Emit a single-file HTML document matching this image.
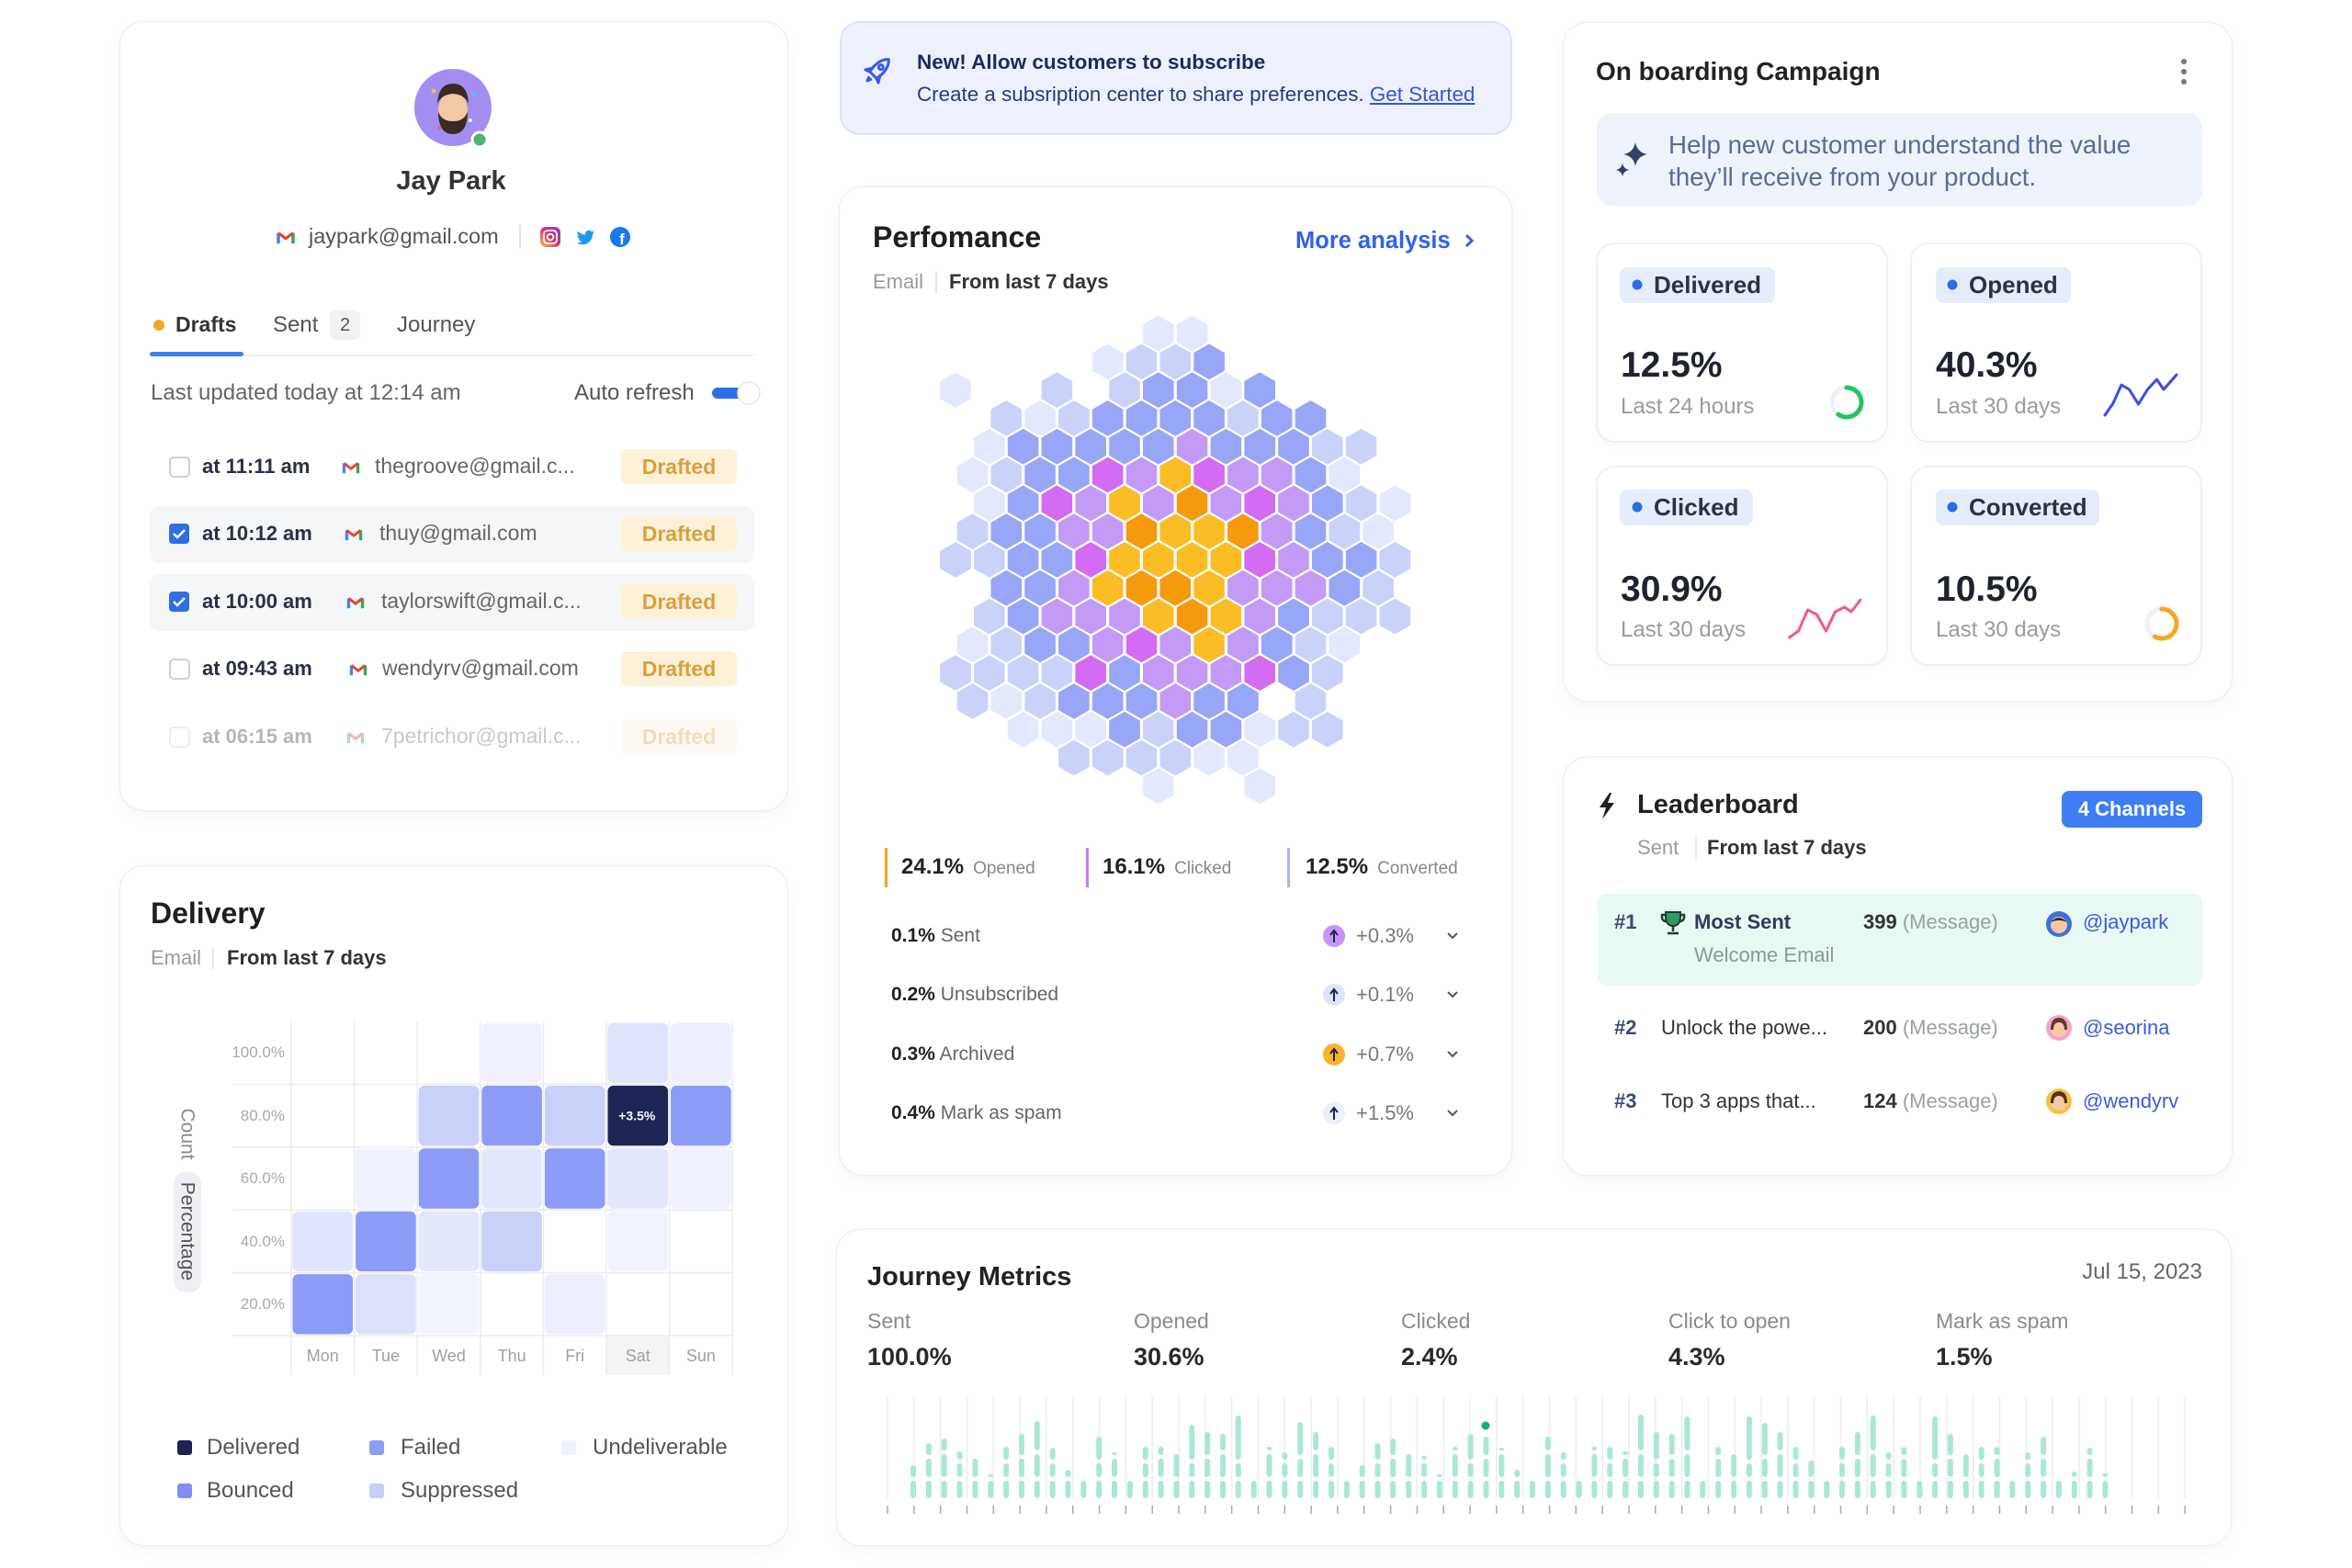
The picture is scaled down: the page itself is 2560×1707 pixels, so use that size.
<!DOCTYPE html>
<html><head><meta charset="utf-8"><title>Dashboard</title>
<style>
*{margin:0;padding:0;box-sizing:border-box}
html,body{width:2560px;height:1707px;background:#fff;overflow:hidden}
body{position:relative;font-family:"Liberation Sans",Arial,sans-serif;color:#333}
.c{position:absolute;background:#fff;border-radius:26px;box-shadow:0 0 0 1.5px #eff0f3,0 6px 18px rgba(20,30,60,.035)}
.t{position:absolute;white-space:nowrap;line-height:1}
.b{font-weight:700}
.bx{position:absolute}
svg#ov{position:absolute;left:0;top:0;z-index:5}
.mc{position:absolute;background:#fff;border-radius:18px;box-shadow:0 0 0 2px #eef0f3,0 4px 10px rgba(20,30,60,.03)}
.pill{position:absolute;height:39px;border-radius:8px;background:#e5ecfb}
.pl{position:absolute;font-size:26px;font-weight:700;color:#2b3343;line-height:1;white-space:nowrap}
.val{position:absolute;font-size:39px;font-weight:700;color:#1f2330;line-height:1}
.lst{position:absolute;font-size:24px;color:#9b9b9b;line-height:1;white-space:nowrap}
.dr{position:absolute;left:676px;width:126px;height:38px;line-height:38px;text-align:center;border-radius:6px;background:#fdf1d8;color:#d9a040;font-size:23px;font-weight:700}
</style></head><body>

<!-- ============ CARDS ============ -->
<div class="c" style="left:131px;top:24px;width:726px;height:858px"></div>
<div class="c" style="left:131px;top:943px;width:726px;height:739px"></div>
<div class="bx" style="left:914px;top:23px;width:732px;height:124px;background:#eef1fd;border:2px solid #dde2fb;border-radius:22px"></div>
<div class="c" style="left:914px;top:204px;width:731px;height:1075px"></div>
<div class="c" style="left:1702px;top:25px;width:727px;height:738px"></div>
<div class="c" style="left:1702px;top:825px;width:727px;height:454px"></div>
<div class="c" style="left:911px;top:1339px;width:1517px;height:343px"></div>

<!-- ============ PROFILE CARD ============ -->
<div class="t b" style="left:391px;top:183px;width:200px;text-align:center;font-size:29px;color:#333">Jay Park</div>
<div class="t" style="left:336px;top:246px;font-size:23.5px;color:#555">jaypark@gmail.com</div>
<div class="bx" style="left:565px;top:245px;width:2px;height:26px;background:#e2e2e2"></div>

<div class="t b" style="left:191px;top:342px;font-size:23px;color:#333">Drafts</div>
<div class="t" style="left:297px;top:342px;font-size:24px;color:#555">Sent</div>
<div class="bx" style="left:359px;top:338px;width:33px;height:32px;border-radius:6px;background:#f1f2f4"></div>
<div class="t" style="left:359px;top:344px;width:33px;text-align:center;font-size:20px;color:#555">2</div>
<div class="t" style="left:432px;top:342px;font-size:24px;color:#555">Journey</div>
<div class="bx" style="left:163px;top:386px;width:659px;height:2px;background:#eceef1"></div>
<div class="bx" style="left:163px;top:383px;width:102px;height:5px;border-radius:3px;background:#3b82f6"></div>

<div class="t" style="left:164px;top:416px;font-size:24px;color:#666">Last updated today at 12:14 am</div>
<div class="t" style="left:625px;top:416px;font-size:24px;color:#555">Auto refresh</div>

<div class="bx" style="left:163px;top:551px;width:658px;height:62px;border-radius:10px;background:#f5f6f8"></div>
<div class="bx" style="left:163px;top:625px;width:658px;height:62px;border-radius:10px;background:#f5f6f8"></div>

<div class="t b" style="left:220px;top:497px;font-size:22px;color:#2a2f45">at 11:11 am</div>
<div class="t" style="left:408px;top:496px;font-size:23px;color:#666">thegroove@gmail.c...</div>
<div class="dr" style="top:489px">Drafted</div>

<div class="t b" style="left:220px;top:570px;font-size:22px;color:#2a2f45">at 10:12 am</div>
<div class="t" style="left:413px;top:569px;font-size:23px;color:#666">thuy@gmail.com</div>
<div class="dr" style="top:562px">Drafted</div>

<div class="t b" style="left:220px;top:644px;font-size:22px;color:#2a2f45">at 10:00 am</div>
<div class="t" style="left:415px;top:643px;font-size:23px;color:#666">taylorswift@gmail.c...</div>
<div class="dr" style="top:636px">Drafted</div>

<div class="t b" style="left:220px;top:717px;font-size:22px;color:#2a2f45">at 09:43 am</div>
<div class="t" style="left:416px;top:716px;font-size:23px;color:#666">wendyrv@gmail.com</div>
<div class="dr" style="top:709px">Drafted</div>

<div style="opacity:.35">
<div class="t b" style="left:220px;top:791px;font-size:22px;color:#2a2f45">at 06:15 am</div>
<div class="t" style="left:415px;top:790px;font-size:23px;color:#666">7petrichor@gmail.c...</div>
<div class="dr" style="top:783px">Drafted</div>
</div>

<!-- ============ DELIVERY CARD ============ -->
<div class="t b" style="left:164px;top:978px;font-size:32px;color:#1f1f1f">Delivery</div>
<div class="t" style="left:164px;top:1032px;font-size:22px;color:#9a9a9a">Email</div>
<div class="bx" style="left:231px;top:1031px;width:2px;height:24px;background:#e6e6e6"></div>
<div class="t b" style="left:247px;top:1032px;font-size:22px;color:#333">From last 7 days</div>

<div class="t" style="left:230px;top:1137px;width:80px;text-align:right;font-size:17px;color:#aaa">100.0%</div>
<div class="t" style="left:230px;top:1206px;width:80px;text-align:right;font-size:17px;color:#aaa">80.0%</div>
<div class="t" style="left:230px;top:1274px;width:80px;text-align:right;font-size:17px;color:#aaa">60.0%</div>
<div class="t" style="left:230px;top:1343px;width:80px;text-align:right;font-size:17px;color:#aaa">40.0%</div>
<div class="t" style="left:230px;top:1411px;width:80px;text-align:right;font-size:17px;color:#aaa">20.0%</div>

<div class="bx" style="left:659px;top:1454px;width:69px;height:43px;background:#f3f4f6"></div>
<div class="t" style="left:317px;top:1467px;width:68.6px;text-align:center;font-size:18px;color:#a0a0a0">Mon</div>
<div class="t" style="left:385.6px;top:1467px;width:68.6px;text-align:center;font-size:18px;color:#a0a0a0">Tue</div>
<div class="t" style="left:454.2px;top:1467px;width:68.6px;text-align:center;font-size:18px;color:#a0a0a0">Wed</div>
<div class="t" style="left:522.8px;top:1467px;width:68.6px;text-align:center;font-size:18px;color:#a0a0a0">Thu</div>
<div class="t" style="left:591.4px;top:1467px;width:68.6px;text-align:center;font-size:18px;color:#a0a0a0">Fri</div>
<div class="t" style="left:660px;top:1467px;width:68.6px;text-align:center;font-size:18px;color:#a0a0a0">Sat</div>
<div class="t" style="left:728.6px;top:1467px;width:68.6px;text-align:center;font-size:18px;color:#a0a0a0">Sun</div>

<div class="t" style="left:169px;top:1224px;width:70px;text-align:center;font-size:21px;color:#8a8a8a;transform:rotate(90deg)">Count</div>
<div class="bx" style="left:189px;top:1276px;width:30px;height:131px;border-radius:12px;background:#eeeff2"></div>
<div class="t" style="left:144px;top:1330px;width:120px;text-align:center;font-size:21px;color:#555;transform:rotate(90deg)">Percentage</div>

<div class="t" style="left:225px;top:1564px;font-size:24px;color:#555">Delivered</div>
<div class="t" style="left:225px;top:1611px;font-size:24px;color:#555">Bounced</div>
<div class="t" style="left:436px;top:1564px;font-size:24px;color:#555">Failed</div>
<div class="t" style="left:436px;top:1611px;font-size:24px;color:#555">Suppressed</div>
<div class="t" style="left:645px;top:1564px;font-size:24px;color:#555">Undeliverable</div>

<!-- ============ BANNER ============ -->
<div class="t b" style="left:998px;top:57px;font-size:22.5px;color:#1e2a5e">New! Allow customers to subscribe</div>
<div class="t" style="left:998px;top:92px;font-size:22.4px;color:#2a3a78">Create a subsription center to share preferences. <span style="color:#3456d9;text-decoration:underline">Get Started</span></div>

<!-- ============ PERFORMANCE ============ -->
<div class="t b" style="left:950px;top:242px;font-size:32px;color:#1f1f1f">Perfomance</div>
<div class="t b" style="left:1410px;top:250px;font-size:25.5px;color:#2f62ea">More analysis</div>
<div class="t" style="left:950px;top:296px;font-size:22px;color:#9a9a9a">Email</div>
<div class="bx" style="left:1018px;top:295px;width:2px;height:24px;background:#e6e6e6"></div>
<div class="t b" style="left:1033px;top:296px;font-size:22px;color:#333">From last 7 days</div>

<div class="t" style="left:981px;top:932px;font-size:24px;color:#222"><b>24.1%</b><span style="font-size:19px;color:#888;margin-left:10px">Opened</span></div>
<div class="t" style="left:1200px;top:932px;font-size:24px;color:#222"><b>16.1%</b><span style="font-size:19px;color:#888;margin-left:10px">Clicked</span></div>
<div class="t" style="left:1421px;top:932px;font-size:24px;color:#222"><b>12.5%</b><span style="font-size:19px;color:#888;margin-left:10px">Converted</span></div>

<div class="t" style="left:970px;top:1008px;font-size:21px;color:#666"><b style="color:#222">0.1%</b> Sent</div>
<div class="t" style="left:970px;top:1072px;font-size:21px;color:#666"><b style="color:#222">0.2%</b> Unsubscribed</div>
<div class="t" style="left:970px;top:1137px;font-size:21px;color:#666"><b style="color:#222">0.3%</b> Archived</div>
<div class="t" style="left:970px;top:1201px;font-size:21px;color:#666"><b style="color:#222">0.4%</b> Mark as spam</div>
<div class="t" style="left:1476px;top:1008px;font-size:22px;color:#7a7a7a">+0.3%</div>
<div class="t" style="left:1476px;top:1072px;font-size:22px;color:#7a7a7a">+0.1%</div>
<div class="t" style="left:1476px;top:1137px;font-size:22px;color:#7a7a7a">+0.7%</div>
<div class="t" style="left:1476px;top:1201px;font-size:22px;color:#7a7a7a">+1.5%</div>

<!-- ============ ONBOARDING ============ -->
<div class="t b" style="left:1737px;top:64px;font-size:28px;color:#222">On boarding Campaign</div>
<div class="bx" style="left:1738px;top:123px;width:659px;height:101px;border-radius:16px;background:#eef2fb"></div>
<div class="t" style="left:1816px;top:144px;font-size:27.7px;color:#5a6c94">Help new customer understand the value</div>
<div class="t" style="left:1816px;top:179px;font-size:27.7px;color:#5a6c94">they’ll receive from your product.</div>

<div class="mc" style="left:1739px;top:266px;width:314px;height:214px"></div>
<div class="mc" style="left:2081px;top:266px;width:314px;height:214px"></div>
<div class="mc" style="left:1739px;top:509px;width:314px;height:214px"></div>
<div class="mc" style="left:2081px;top:509px;width:314px;height:214px"></div>

<div class="pill" style="left:1763px;top:291px;width:169px"></div>
<div class="pl" style="left:1800px;top:297px">Delivered</div>
<div class="val" style="left:1764px;top:378px">12.5%</div>
<div class="lst" style="left:1764px;top:431px">Last 24 hours</div>

<div class="pill" style="left:2107px;top:291px;width:147px"></div>
<div class="pl" style="left:2143px;top:297px">Opened</div>
<div class="val" style="left:2107px;top:378px">40.3%</div>
<div class="lst" style="left:2107px;top:431px">Last 30 days</div>

<div class="pill" style="left:1763px;top:533px;width:145px"></div>
<div class="pl" style="left:1800px;top:539px">Clicked</div>
<div class="val" style="left:1764px;top:622px">30.9%</div>
<div class="lst" style="left:1764px;top:674px">Last 30 days</div>

<div class="pill" style="left:2107px;top:533px;width:178px"></div>
<div class="pl" style="left:2143px;top:539px">Converted</div>
<div class="val" style="left:2107px;top:622px">10.5%</div>
<div class="lst" style="left:2107px;top:674px">Last 30 days</div>

<!-- ============ LEADERBOARD ============ -->
<div class="t b" style="left:1782px;top:862px;font-size:29px;color:#222">Leaderboard</div>
<div class="t b" style="left:2244px;top:861px;width:153px;height:40px;line-height:40px;text-align:center;border-radius:8px;background:#3d7ef2;color:#fff;font-size:22px">4 Channels</div>
<div class="t" style="left:1782px;top:912px;font-size:22px;color:#9a9a9a">Sent</div>
<div class="bx" style="left:1845px;top:911px;width:2px;height:24px;background:#e6e6e6"></div>
<div class="t b" style="left:1858px;top:912px;font-size:22px;color:#333">From last 7 days</div>

<div class="bx" style="left:1739px;top:973px;width:658px;height:100px;border-radius:10px;background:#e8f8f2"></div>
<div class="t b" style="left:1757px;top:993px;font-size:22px;color:#3c4b6e">#1</div>
<div class="t b" style="left:1844px;top:993px;font-size:22px;color:#2d3b5e">Most Sent</div>
<div class="t" style="left:1844px;top:1029px;font-size:22px;color:#8a9a95">Welcome Email</div>
<div class="t" style="left:2028px;top:993px;font-size:22px;color:#9aa0a0"><b style="color:#333">399</b> (Message)</div>
<div class="t" style="left:2267px;top:993px;font-size:22px;color:#3b5bdb">@jaypark</div>

<div class="t b" style="left:1757px;top:1108px;font-size:22px;color:#3c4b6e">#2</div>
<div class="t" style="left:1808px;top:1108px;font-size:22px;color:#333">Unlock the powe...</div>
<div class="t" style="left:2028px;top:1108px;font-size:22px;color:#9aa0a0"><b style="color:#333">200</b> (Message)</div>
<div class="t" style="left:2267px;top:1108px;font-size:22px;color:#3b5bdb">@seorina</div>

<div class="t b" style="left:1757px;top:1188px;font-size:22px;color:#3c4b6e">#3</div>
<div class="t" style="left:1808px;top:1188px;font-size:22px;color:#333">Top 3 apps that...</div>
<div class="t" style="left:2028px;top:1188px;font-size:22px;color:#9aa0a0"><b style="color:#333">124</b> (Message)</div>
<div class="t" style="left:2267px;top:1188px;font-size:22px;color:#3b5bdb">@wendyrv</div>

<!-- ============ JOURNEY ============ -->
<div class="t b" style="left:944px;top:1376px;font-size:29px;color:#222">Journey Metrics</div>
<div class="t" style="left:2197px;top:1373px;width:200px;text-align:right;font-size:24px;color:#666">Jul 15, 2023</div>
<div class="t" style="left:944px;top:1427px;font-size:23px;color:#8a8a8a">Sent</div>
<div class="t" style="left:1234px;top:1427px;font-size:23px;color:#8a8a8a">Opened</div>
<div class="t" style="left:1525px;top:1427px;font-size:23px;color:#8a8a8a">Clicked</div>
<div class="t" style="left:1816px;top:1427px;font-size:23px;color:#8a8a8a">Click to open</div>
<div class="t" style="left:2107px;top:1427px;font-size:23px;color:#8a8a8a">Mark as spam</div>
<div class="t b" style="left:944px;top:1464px;font-size:27px;color:#2a2a2a">100.0%</div>
<div class="t b" style="left:1234px;top:1464px;font-size:27px;color:#2a2a2a">30.6%</div>
<div class="t b" style="left:1525px;top:1464px;font-size:27px;color:#2a2a2a">2.4%</div>
<div class="t b" style="left:1816px;top:1464px;font-size:27px;color:#2a2a2a">4.3%</div>
<div class="t b" style="left:2107px;top:1464px;font-size:27px;color:#2a2a2a">1.5%</div>

<!-- ============ SVG OVERLAY ============ -->
<svg id="ov" width="2560" height="1707" viewBox="0 0 2560 1707" xmlns="http://www.w3.org/2000/svg">
<defs>
<symbol id="gm" viewBox="0 0 24 18"><path d="M3 17V4" stroke="#4285f4" stroke-width="4" fill="none"/><path d="M21 17V4" stroke="#34a853" stroke-width="4" fill="none"/><path d="M3 4l9 7 9-7" stroke="#ea4335" stroke-width="3.5" fill="none" stroke-linejoin="round"/></symbol>
<linearGradient id="ig" x1="0" y1="1" x2="1" y2="0"><stop offset="0" stop-color="#fdc046"/><stop offset=".5" stop-color="#e1306c"/><stop offset="1" stop-color="#7b3fe4"/></linearGradient>
</defs>

<!-- avatar -->
<circle cx="493" cy="117" r="42" fill="#a48df0"/>
<circle cx="472" cy="99" r="2.5" fill="#f6c244"/><circle cx="516" cy="103" r="2.5" fill="#4fc3f7"/><circle cx="478" cy="139" r="2" fill="#ef5b8f"/><circle cx="512" cy="131" r="2" fill="#fff"/>
<ellipse cx="493" cy="120" rx="16" ry="20" fill="#f2c9a3"/>
<path d="M476 113 q1-22 17-22 q16 0 17 22 q-4-10-17-11 q-13 1-17 11z" fill="#3a2a22"/>
<path d="M477 121 q0 25 16 25 q16 0 16-25 q-3 11-16 11 q-13 0-16-11z" fill="#3a2a22"/>
<circle cx="522" cy="152" r="8" fill="#4fb374" stroke="#fff" stroke-width="3"/>

<!-- contact icons -->
<use href="#gm" x="300" y="250" width="22" height="16"/>
<rect x="588" y="247" width="22" height="22" rx="6" fill="url(#ig)"/>
<rect x="592" y="251" width="14" height="14" rx="4" fill="none" stroke="#fff" stroke-width="1.8"/>
<circle cx="599" cy="258" r="3.3" fill="none" stroke="#fff" stroke-width="1.8"/>
<path transform="translate(626,247) scale(0.95)" fill="#1d9bf0" d="M22 5.9c-.8.3-1.6.6-2.4.7.9-.5 1.5-1.4 1.8-2.3-.8.5-1.7.8-2.6 1-.8-.8-1.9-1.3-3-1.3-2.3 0-4.1 1.8-4.1 4.1 0 .3 0 .6.1.9C8.3 8.8 5.3 7.2 3.2 4.700c-.4.6-.6 1.3-.6 2.1 0 1.4.7 2.7 1.8 3.4-.7 0-1.3-.2-1.9-.5v.1c0 2 1.4 3.6 3.3 4-.3.1-.7.1-1.1.1-.3 0-.5 0-.8-.1.5 1.6 2 2.8 3.8 2.8-1.4 1.1-3.2 1.8-5.1 1.8H2c1.8 1.2 4 1.8 6.3 1.8 7.5 0 11.7-6.3 11.7-11.7v-.5c.8-.6 1.5-1.3 2-2.1z"/>
<circle cx="675" cy="258" r="11" fill="#1877f2"/>
<text x="677" y="266" font-size="17" font-weight="700" fill="#fff" text-anchor="middle" font-family="Liberation Sans, sans-serif">f</text>

<!-- tabs / toggle -->
<circle cx="173" cy="354" r="6" fill="#f6a623"/>
<rect x="775" y="422" width="40" height="12" rx="6" fill="#2f6fe4"/>
<circle cx="815" cy="428" r="12" fill="#fff" stroke="#e3e5ea" stroke-width="1.5"/>

<!-- checkboxes -->
<rect x="185" y="498" width="21" height="21" rx="4" fill="#fff" stroke="#cdd0d6" stroke-width="2"/>
<rect x="184" y="570" width="22" height="22" rx="4" fill="#2f6fe4"/><path d="M189 581l4 4 8-8" stroke="#fff" stroke-width="2.5" fill="none"/>
<rect x="184" y="644" width="22" height="22" rx="4" fill="#2f6fe4"/><path d="M189 655l4 4 8-8" stroke="#fff" stroke-width="2.5" fill="none"/>
<rect x="185" y="718" width="21" height="21" rx="4" fill="#fff" stroke="#cdd0d6" stroke-width="2"/>
<rect x="185" y="792" width="21" height="21" rx="4" fill="#fff" stroke="#cdd0d6" stroke-width="2" opacity=".4"/>
<use href="#gm" x="372" y="501" width="20" height="15"/>
<use href="#gm" x="375" y="574" width="20" height="15"/>
<use href="#gm" x="377" y="648" width="20" height="15"/>
<use href="#gm" x="380" y="721" width="20" height="15"/>
<use href="#gm" x="377" y="795" width="20" height="15" opacity=".4"/>

<!-- rocket -->
<g transform="translate(956,76) rotate(45)" fill="none" stroke="#3b57ee" stroke-width="3" stroke-linejoin="round">
<path d="M0 -16 C7 -10 7 2 5 8 L-5 8 C-7 2 -7 -10 0 -16Z"/>
<circle cx="0" cy="-4" r="2.5"/>
<path d="M-5 2 L-10 10 L-5 8 M5 2 L10 10 L5 8"/>
<path d="M-2 12 L0 17 L2 12"/>
</g>

<!-- more analysis chevron -->
<path d="M1596 256l6 6-6 6" stroke="#2f62ea" stroke-width="3" fill="none"/>

<!-- perf stat bars -->
<rect x="963" y="923" width="3" height="43" fill="#f5a623"/>
<rect x="1182" y="923" width="3" height="43" fill="#c77cf0"/>
<rect x="1401" y="923" width="3" height="43" fill="#a9b3f5"/>

<!-- perf rows icons -->
<circle cx="1452" cy="1019" r="12" fill="#c595f5"/><path d="M1452 1026v-12M1448 1018l4-5 4 5" stroke="#1e2352" stroke-width="2" fill="none"/>
<circle cx="1452" cy="1083" r="12" fill="#dfe4fb"/><path d="M1452 1090v-12M1448 1082l4-5 4 5" stroke="#1e2352" stroke-width="2" fill="none"/>
<circle cx="1452" cy="1148" r="12" fill="#f7b52b"/><path d="M1452 1155v-12M1448 1147l4-5 4 5" stroke="#1e2352" stroke-width="2" fill="none"/>
<circle cx="1452" cy="1212" r="12" fill="#eceffc"/><path d="M1452 1219v-12M1448 1211l4-5 4 5" stroke="#1e2352" stroke-width="2" fill="none"/>
<path d="M1576 1016l5 5 5-5" stroke="#555" stroke-width="2" fill="none"/>
<path d="M1576 1080l5 5 5-5" stroke="#555" stroke-width="2" fill="none"/>
<path d="M1576 1145l5 5 5-5" stroke="#555" stroke-width="2" fill="none"/>
<path d="M1576 1209l5 5 5-5" stroke="#555" stroke-width="2" fill="none"/>

<!-- onboarding -->
<circle cx="2377" cy="67" r="3" fill="#777"/><circle cx="2377" cy="78" r="3" fill="#777"/><circle cx="2377" cy="89" r="3" fill="#777"/>
<path transform="translate(1780,168)" d="M0 -13 Q2 -2 13 0 Q2 2 0 13 Q-2 2 -13 0 Q-2 -2 0 -13Z" fill="#33416a"/>
<path transform="translate(1766,185) scale(0.55)" d="M0 -13 Q2 -2 13 0 Q2 2 0 13 Q-2 2 -13 0 Q-2 -2 0 -13Z" fill="#33416a"/>
<circle cx="1782" cy="310" r="5.5" fill="#2c6ce6"/>
<circle cx="2125" cy="310" r="5.5" fill="#2c6ce6"/>
<circle cx="1782" cy="552" r="5.5" fill="#2c6ce6"/>
<circle cx="2125" cy="552" r="5.5" fill="#2c6ce6"/>
<circle cx="2010" cy="438" r="16" fill="none" stroke="#eef0f3" stroke-width="5"/>
<circle cx="2010" cy="438" r="16" fill="none" stroke="#22c55e" stroke-width="5" stroke-dasharray="60 101" stroke-linecap="round" transform="rotate(-90 2010 438)"/>
<circle cx="2353" cy="679" r="16" fill="none" stroke="#eef0f3" stroke-width="5"/>
<circle cx="2353" cy="679" r="16" fill="none" stroke="#f5a623" stroke-width="5" stroke-dasharray="58 101" stroke-linecap="round" transform="rotate(-90 2353 679)"/>
<polyline points="2291,452 2300,439 2309,419 2317.5,424 2327.5,440 2337.5,424 2347.5,413 2355,424 2369,408" fill="none" stroke="#3b4de0" stroke-width="3" stroke-linejoin="round" stroke-linecap="round"/>
<polyline points="1947.5,694 1957.5,687 1967.5,664 1977.5,669 1987.5,687 1997.5,666 2007.5,661 2015,666 2025,653" fill="none" stroke="#f2588f" stroke-width="3" stroke-linejoin="round" stroke-linecap="round"/>

<!-- leaderboard icons -->
<path d="M1752 863 L1741 879 H1748 L1744 892 L1757 874 H1750 L1754 863Z" fill="#1e1e1e"/>
<path d="M1813 993h16v6c0 6-4 9-8 9s-8-3-8-9z" fill="#2b9a63" stroke="#1f3d2e" stroke-width="2"/>
<path d="M1821 1008v6M1815 1016h12M1813 996h-4v3c0 2 2 4 4 4M1829 996h4v3c0 2-2 4-4 4" stroke="#1f3d2e" stroke-width="2.5" fill="none"/>
<circle cx="2241" cy="1006" r="14" fill="#3b6fe0"/><circle cx="2241" cy="1007" r="9" fill="#f2c9a3"/><path d="M2232 1004q9-10 18 0q-9-4-18 0z" fill="#3a2a22"/>
<circle cx="2241" cy="1119" r="14" fill="#f5a3c7"/><circle cx="2241" cy="1120" r="9" fill="#f2c9a3"/><path d="M2232 1121q0-13 9-13q9 0 9 13l-3 0q0-8-6-8q-6 0-6 8z" fill="#5a3a2a"/>
<circle cx="2241" cy="1199" r="14" fill="#f6c244"/><circle cx="2241" cy="1200" r="9" fill="#f2c9a3"/><path d="M2232 1201q0-13 9-13q9 0 9 13l-3 0q0-8-6-8q-6 0-6 8z" fill="#4a3328"/>

<!-- delivery grid -->
<g id="dg" stroke="#ececf0" stroke-width="1.5"></g>
<g id="dc"></g>
<text x="693.3" y="1219.5" font-size="14" font-weight="700" fill="#fff" text-anchor="middle" font-family="Liberation Sans, sans-serif">+3.5%</text>
<rect x="193" y="1568" width="16" height="16" rx="3" fill="#1e2352"/>
<rect x="193" y="1615" width="16" height="16" rx="3" fill="#7f8ff4"/>
<rect x="402" y="1568" width="16" height="16" rx="3" fill="#8e9ef7"/>
<rect x="402" y="1615" width="16" height="16" rx="3" fill="#c6cdfa"/>
<rect x="611" y="1568" width="16" height="16" rx="3" fill="#eef0fd"/>

<!-- hexbin + journey bars (generated) -->
<g id="hx"></g>
<g id="jg"></g>
<g id="jb" fill="#a9e9d3"></g>
<circle cx="1617" cy="1552" r="4.5" fill="#10b07f"/>
</svg>

<script>
(function(){
var NS="http://www.w3.org/2000/svg";
function el(p,n,a){var e=document.createElementNS(NS,n);for(var k in a)e.setAttribute(k,a[k]);p.appendChild(e);return e;}
/* hexbin */
var hx=document.getElementById('hx');
var HR=["......00......","....0112.....","0..1.12202....",".1012222122..",".022222322211.","012243543320.",".0243536343210","1223365563210","11224555543221",".223566533321",".1233356532111","012234353210.","111142333421..","101222322.1..","..0002122011..","...111100....","......0..0...."];
var HC=['#e4e8fc','#cbd2fa','#97a6f6','#c39af6','#d46bf3','#fbbd26','#f7990c'];
var R=19.4;
HR.forEach(function(s,r){var y=363+30.8*r,x0=(r%2?1058.5:1040);
 for(var k=0;k<s.length;k++){var ch=s.charAt(k);if(ch=='.')continue;var cx=x0+36.8*k,p=[];
  for(var i=0;i<6;i++){var a=Math.PI/3*i-Math.PI/2;p.push((cx+R*Math.cos(a)).toFixed(1)+','+(y+R*Math.sin(a)).toFixed(1));}
  el(hx,'polygon',{points:p.join(' '),fill:HC[+ch]});}});
/* delivery grid */
var dg=document.getElementById('dg'),dc=document.getElementById('dc');
var CX=317,CW=68.6,RY=1112,RH=68.4;
for(var i=0;i<8;i++){var x=CX+CW*i;el(dg,'line',{x1:x,y1:RY,x2:x,y2:1497});}
for(var j=1;j<=5;j++){var y=RY+RH*j;el(dg,'line',{x1:253,y1:y,x2:797,y2:y});}
var M='#8c9cf6',L='#c9d0fa';
var cells=[[0,3,'#eef0fd'],[0,5,'#dfe4fb'],[0,6,'#eceefd'],
[1,2,L],[1,3,M],[1,4,L],[1,5,'#1f2555'],[1,6,M],
[2,1,'#eff1fd'],[2,2,M],[2,3,'#e3e7fc'],[2,4,M],[2,5,'#e3e7fc'],[2,6,'#eff1fd'],
[3,0,'#e1e5fc'],[3,1,M],[3,2,'#e3e7fc'],[3,3,L],[3,5,'#f0f2fd'],
[4,0,M],[4,1,'#dde2fb'],[4,2,'#f1f3fd'],[4,4,'#eceefd']];
cells.forEach(function(c){var x=CX+CW*c[1],y=RY+RH*c[0];el(dc,'rect',{x:(x+1.5).toFixed(1),y:(y+1.5).toFixed(1),width:CW-3,height:RH-3,rx:6,fill:c[2]});});
/* journey grid */
var jg=document.getElementById('jg');
for(var n=0;n<50;n++){var x=966+28.82*n;el(jg,'line',{x1:x,y1:1520,x2:x,y2:1631,stroke:'#ececec','stroke-width':1.5});el(jg,'line',{x1:x,y1:1639,x2:x,y2:1648,stroke:'#aaa','stroke-width':1.5});}
var H=[36,60,65,51,46,26,56,70,84,55,31,19,67,50,19,56,56,51,80,72,70,90,19,56,50,83,72,56,24,36,60,65,51,46,26,56,70,67,55,31,19,67,50,19,56,56,51,91,72,70,89,19,56,49,89,82,72,56,41,19,56,72,90,50,56,19,89,70,50,56,56,19,50,67,19,29,55,27];
var jb=document.getElementById('jb'),B=1631;
H.forEach(function(h,m){var x=994+16.85*m-3;var br=38+(m%3)*5;var segs=[[0,Math.min(h,19)]];
 if(h>23)segs.push([23,Math.min(h,br)]);if(h>br+4)segs.push([br+4,h]);
 segs.forEach(function(s){if(s[1]-s[0]<2)return;el(jb,'rect',{x:x.toFixed(1),y:(B-s[1]).toFixed(1),width:6,height:(s[1]-s[0]).toFixed(1),rx:3});});});
})();
</script>
</body></html>
